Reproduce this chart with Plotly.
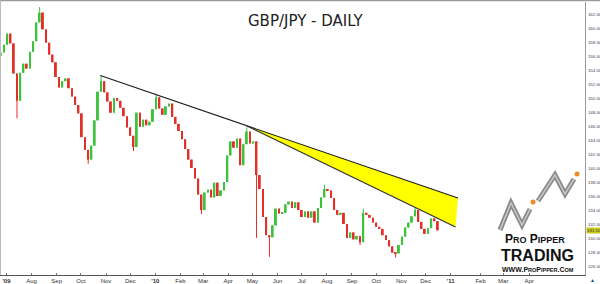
import pandas as pd
import plotly.graph_objects as go

# ---------------- data ----------------
start_date = "2009-06-24"
bar_step_days = 4
first_open = 156.0
closes = [
    156.5, 157.6, 159.2, 157.8, 153.5, 149.6, 153.6, 154.9, 154.2, 156.6,
    158.1, 160.8, 162.2, 159.8, 157.9, 156.2, 155.1, 153.0, 151.5, 152.4,
    152.8, 151.4, 150.2, 149.0, 147.8, 144.4, 142.6, 141.2, 143.2, 146.8,
    150.9, 152.4, 150.8, 149.5, 147.9, 150.0, 149.6, 148.6, 147.4, 145.8,
    144.6, 143.0, 147.9, 145.9, 146.9, 146.1, 146.6, 148.4, 150.1, 148.5,
    147.6, 148.8, 149.2, 147.3, 146.3, 145.3, 144.1, 142.7, 141.2, 140.0,
    138.5, 136.2, 134.0, 136.5, 136.9, 135.8, 137.9, 136.0, 136.8, 138.0,
    141.8, 143.8, 142.9, 144.2, 140.4, 143.4, 145.2, 143.5, 143.8, 139.0,
    137.0, 133.0, 130.4, 130.1, 131.8, 134.2, 133.5, 133.6, 134.8, 135.2,
    134.3, 135.1, 134.0, 133.0, 133.8, 132.9, 133.8, 132.2, 134.3, 135.8,
    137.0, 136.8, 135.7, 134.0, 133.3, 133.6, 132.0, 130.0, 130.8, 129.8,
    130.3, 129.4, 133.6, 133.3, 132.9, 132.2, 131.6, 131.3, 130.4, 129.7,
    128.8, 127.9, 127.8, 129.0, 130.2, 131.5, 132.2, 133.1, 134.0, 132.3,
    131.3, 130.6, 131.4, 132.8, 132.4, 131.1,
]
wick_lows = {5: 147.1, 27: 140.6, 41: 142.4, 62: 133.4, 79: 130.0,
             83: 127.3, 111: 129.0, 122: 127.2}
wick_highs = {12: 163.0, 31: 153.2, 48: 150.6, 76: 145.8, 100: 137.6,
              112: 134.2, 128: 134.4}

trend_upper_dates = ["2009-10-25", "2011-01-10"]
trend_upper_prices = [153.2, 135.7]
trend_lower_dates = ["2010-04-23", "2011-01-07"]
trend_lower_prices = [146.07, 131.57]

tick_dates = ["2009-07-01", "2009-08-01", "2009-09-01", "2009-10-01", "2009-11-01",
              "2009-12-01", "2010-01-01", "2010-02-01", "2010-03-01", "2010-04-01",
              "2010-05-01", "2010-06-01", "2010-07-01", "2010-08-01", "2010-09-01",
              "2010-10-01", "2010-11-01", "2010-12-01", "2011-01-01", "2011-02-07",
              "2011-03-07", "2011-04-08"]
tick_labels = ["<b>'09</b>", "Aug", "Sep", "Oct", "Nov", "Dec", "<b>'10</b>", "Feb",
               "Mar", "Apr", "May", "Jun", "Jul", "Aug", "Sep", "Oct", "Nov", "Dec",
               "<b>'11</b>", "Feb", "Mar", "Apr"]
price_ticks = list(range(126, 163, 2))

title_text = "GBP/JPY - DAILY"

# ---------------- build ----------------
dates = pd.date_range(start_date, periods=len(closes), freq=f"{bar_step_days}D")
opens = [first_open] + closes[:-1]
UP = "#3cc43c"
DN = "#e2302a"

base = [min(o, c) for o, c in zip(opens, closes)]
height = [max(abs(c - o), 0.14) for o, c in zip(opens, closes)]
colors = [UP if c >= o else DN for o, c in zip(opens, closes)]

fig = go.Figure()

# wicks
for col in (UP, DN):
    wx, wy = [], []
    for i, d in enumerate(dates):
        if colors[i] != col:
            continue
        hi = wick_highs.get(i, max(opens[i], closes[i]))
        lo = wick_lows.get(i, min(opens[i], closes[i]))
        if hi > lo:
            wx += [d, d, None]
            wy += [lo, hi, None]
    fig.add_trace(go.Scatter(x=wx, y=wy, mode="lines",
                             line=dict(color=col, width=1), hoverinfo="skip"))

fig.add_trace(go.Bar(x=dates, y=height, base=base, marker_color=colors,
                     marker_line_width=0, width=2.3 * 86400000))

# yellow wedge
poly_x = [trend_lower_dates[0], trend_upper_dates[1], trend_lower_dates[1], trend_lower_dates[0]]
poly_y = [trend_lower_prices[0], trend_upper_prices[1], trend_lower_prices[1], trend_lower_prices[0]]
fig.add_trace(go.Scatter(x=poly_x, y=poly_y, mode="lines", fill="toself",
                         fillcolor="#ffff00", line=dict(width=0, color="rgba(0,0,0,0)")))
fig.add_trace(go.Scatter(x=trend_upper_dates, y=trend_upper_prices, mode="lines",
                         line=dict(color="#1a1a1a", width=1.1)))
fig.add_trace(go.Scatter(x=trend_lower_dates, y=trend_lower_prices, mode="lines",
                         line=dict(color="#333333", width=1.3)))

W, H = 600, 284
L, R, T, B = 0, 15, 2, 9
pw, ph = W - L - R, H - T - B


def px(x):
    return (x - L) / pw


def py(y):
    return (H - B - y) / ph


fig.update_layout(
    width=W, height=H,
    margin=dict(l=L, r=R, t=T, b=B, pad=0),
    paper_bgcolor="white", plot_bgcolor="white",
    showlegend=False,
    font=dict(family="Liberation Sans, Arial, sans-serif", color="#333"),
    xaxis=dict(type="date", range=["2009-06-23", "2011-06-16"],
               tickvals=tick_dates, ticktext=tick_labels,
               tickfont=dict(size=6, color="#333"),
               showgrid=False, zeroline=False, showline=True,
               linecolor="#555", linewidth=1, ticks="inside", ticklen=2,
               tickcolor="#777", automargin=False),
    yaxis=dict(side="right", range=[124.714, 163.714],
               tickvals=price_ticks, ticktext=[f"{v:.2f}" for v in price_ticks],
               tickfont=dict(size=4.4, color="#444"),
               showgrid=False, zeroline=False, showline=True,
               linecolor="#999", linewidth=1, ticks="",
               ticklabelstandoff=1, automargin=False),
)

# frame top/left
fig.add_shape(type="line", xref="paper", yref="paper", x0=px(0), x1=px(600),
              y0=py(0.5), y1=py(0.5), line=dict(color="#999", width=1.5))
fig.add_shape(type="line", xref="paper", yref="paper", x0=px(0.5), x1=px(0.5),
              y0=0, y1=py(0.5), line=dict(color="#bbb", width=1))

# title
fig.add_annotation(x=px(306), y=py(21), xref="paper", yref="paper", text=title_text,
                   showarrow=False, xanchor="center", yanchor="middle",
                   font=dict(family="DejaVu Sans", size=15, color="#222"))

# last price marker
fig.add_annotation(x=1, y=closes[-1], xref="paper", yref="y",
                   text=f"{closes[-1]:.2f}", showarrow=False, xanchor="left",
                   yanchor="middle", bgcolor="#c9c91e", borderpad=0,
                   font=dict(size=4.4, color="#333"), xshift=1)

# logo zigzag
def path(points):
    return "M " + " L ".join(f"{px(x)},{py(y)}" for x, y in points)

for pts in ([(500, 230), (511, 203), (522, 225), (530, 209)],
            [(538, 201), (555, 175), (565, 194), (574, 179)]):
    fig.add_shape(type="path", xref="paper", yref="paper", path=path(pts),
                  line=dict(color="#8a8a8a", width=5))
    fig.add_shape(type="path", xref="paper", yref="paper", path=path(pts),
                  line=dict(color="#c8c8c8", width=1.5))
for cx, cy in ((533, 202), (577, 174)):
    fig.add_shape(type="circle", xref="paper", yref="paper",
                  x0=px(cx - 2.5), x1=px(cx + 2.5), y0=py(cy + 2.5), y1=py(cy - 2.5),
                  fillcolor="#f08a24", line=dict(width=0))

sm = "font-size:9px"
fig.add_annotation(x=px(535), y=py(238.5), xref="paper", yref="paper", showarrow=False,
                   xanchor="center", yanchor="middle",
                   text=f"<b>P<span style='{sm}'>RO</span> P<span style='{sm}'>IPPER</span></b>",
                   font=dict(family="Liberation Sans", size=12, color="#111"))
fig.add_annotation(x=px(537), y=py(255), xref="paper", yref="paper", showarrow=False,
                   xanchor="center", yanchor="middle",
                   text="<b>TRADING</b>",
                   font=dict(family="Liberation Sans", size=16, color="#111"))
s2 = "font-size:5.5px"
fig.add_annotation(x=px(538), y=py(269), xref="paper", yref="paper", showarrow=False,
                   xanchor="center", yanchor="middle",
                   text=(f"<b>WWW.P<span style='{s2}'>RO</span>P<span style='{s2}'>IPPER</span>"
                         f".C<span style='{s2}'>OM</span></b>"),
                   font=dict(family="Liberation Sans", size=7, color="#111"))

# corner icon
fig.add_annotation(x=px(592), y=py(279.5), xref="paper", yref="paper", showarrow=False,
                   xanchor="center", yanchor="middle",
                   text="▲", font=dict(size=5, color="#1f3d99"))

fig.write_html("out.html")
